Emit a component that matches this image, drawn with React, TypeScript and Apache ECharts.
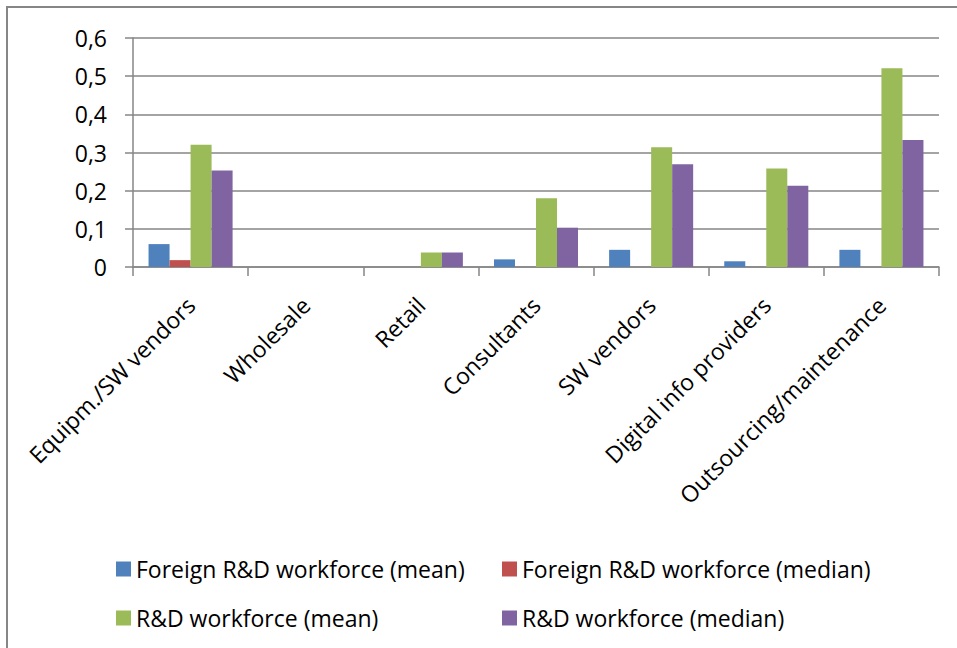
import React, { useEffect, useRef } from "react";
import * as echarts from "echarts";

const categories = [
  "Equipm./SW vendors",
  "Wholesale",
  "Retail",
  "Consultants",
  "SW vendors",
  "Digital info providers",
  "Outsourcing/maintenance",
];

const foreignMean = [0.06, 0, 0, 0.02, 0.045, 0.015, 0.045];
const foreignMedian = [0.018, 0, 0, 0, 0, 0, 0];
const rdMean = [0.32, 0, 0.038, 0.18, 0.314, 0.258, 0.521];
const rdMedian = [0.253, 0, 0.038, 0.103, 0.269, 0.213, 0.333];

const seriesNames = [
  "Foreign R&D workforce (mean)",
  "Foreign R&D workforce (median)",
  "R&D workforce (mean)",
  "R&D workforce (median)",
];

const colors = ["#4F81BD", "#C0504D", "#9BBB59", "#8064A2"];

const FONT = "'Open Sans', 'Noto Sans', sans-serif";
const FS = 23;

export default function App() {
  const ref = useRef<HTMLDivElement>(null);

  useEffect(() => {
    if (!ref.current) return;
    const chart = echarts.init(ref.current, null, { renderer: "svg" });
    const values = [foreignMean, foreignMedian, rdMean, rdMedian];
    const legendText = {
      fontFamily: FONT,
      fontSize: FS,
      color: "#000",
      lineHeight: 24,
    };
    chart.setOption({
      animation: false,
      backgroundColor: "#fff",
      color: colors,
      textStyle: { fontFamily: FONT },
      grid: { left: 133, right: 18, top: 38, bottom: 381, containLabel: false },
      graphic: [
        {
          type: "rect",
          shape: { x: 7, y: 7, width: 1000, height: 1000 },
          style: { fill: "none", stroke: "#868686", lineWidth: 2 },
          silent: true,
        },
      ],
      legend: [
        {
          orient: "vertical",
          left: 111,
          top: 552,
          itemWidth: 15,
          itemHeight: 15,
          itemGap: 25,
          icon: "rect",
          data: [seriesNames[0], seriesNames[2]],
          textStyle: legendText,
        },
        {
          orient: "vertical",
          left: 497,
          top: 552,
          itemWidth: 15,
          itemHeight: 15,
          itemGap: 25,
          icon: "rect",
          data: [seriesNames[1], seriesNames[3]],
          textStyle: legendText,
        },
      ],
      xAxis: {
        type: "category",
        data: categories,
        axisLine: { lineStyle: { color: "#868686", width: 1.5 } },
        axisTick: { show: true, length: 9, lineStyle: { color: "#868686", width: 1.5 } },
        axisLabel: {
          rotate: 45,
          interval: 0,
          margin: 34,
          fontFamily: FONT,
          fontSize: FS,
          color: "#000",
        },
      },
      yAxis: {
        type: "value",
        min: 0,
        max: 0.6,
        interval: 0.1,
        axisLine: { show: true, lineStyle: { color: "#868686", width: 1.5 } },
        axisTick: { show: true, length: 8, lineStyle: { color: "#868686", width: 1.5 } },
        splitLine: { lineStyle: { color: "#868686", width: 1.5 } },
        axisLabel: {
          margin: 26,
          fontFamily: FONT,
          fontSize: FS,
          color: "#000",
          formatter: (v: number) => (v === 0 ? "0" : v.toFixed(1).replace(".", ",")),
        },
      },
      series: seriesNames.map((name, i) => ({
        name,
        type: "bar",
        data: values[i],
        barGap: "0%",
        barCategoryGap: "27%",
        itemStyle: { color: colors[i] },
      })),
    });
    return () => chart.dispose();
  }, []);

  return (
    <div
      ref={ref}
      style={{ position: "absolute", left: 0, top: 0, width: 957, height: 648 }}
    />
  );
}
